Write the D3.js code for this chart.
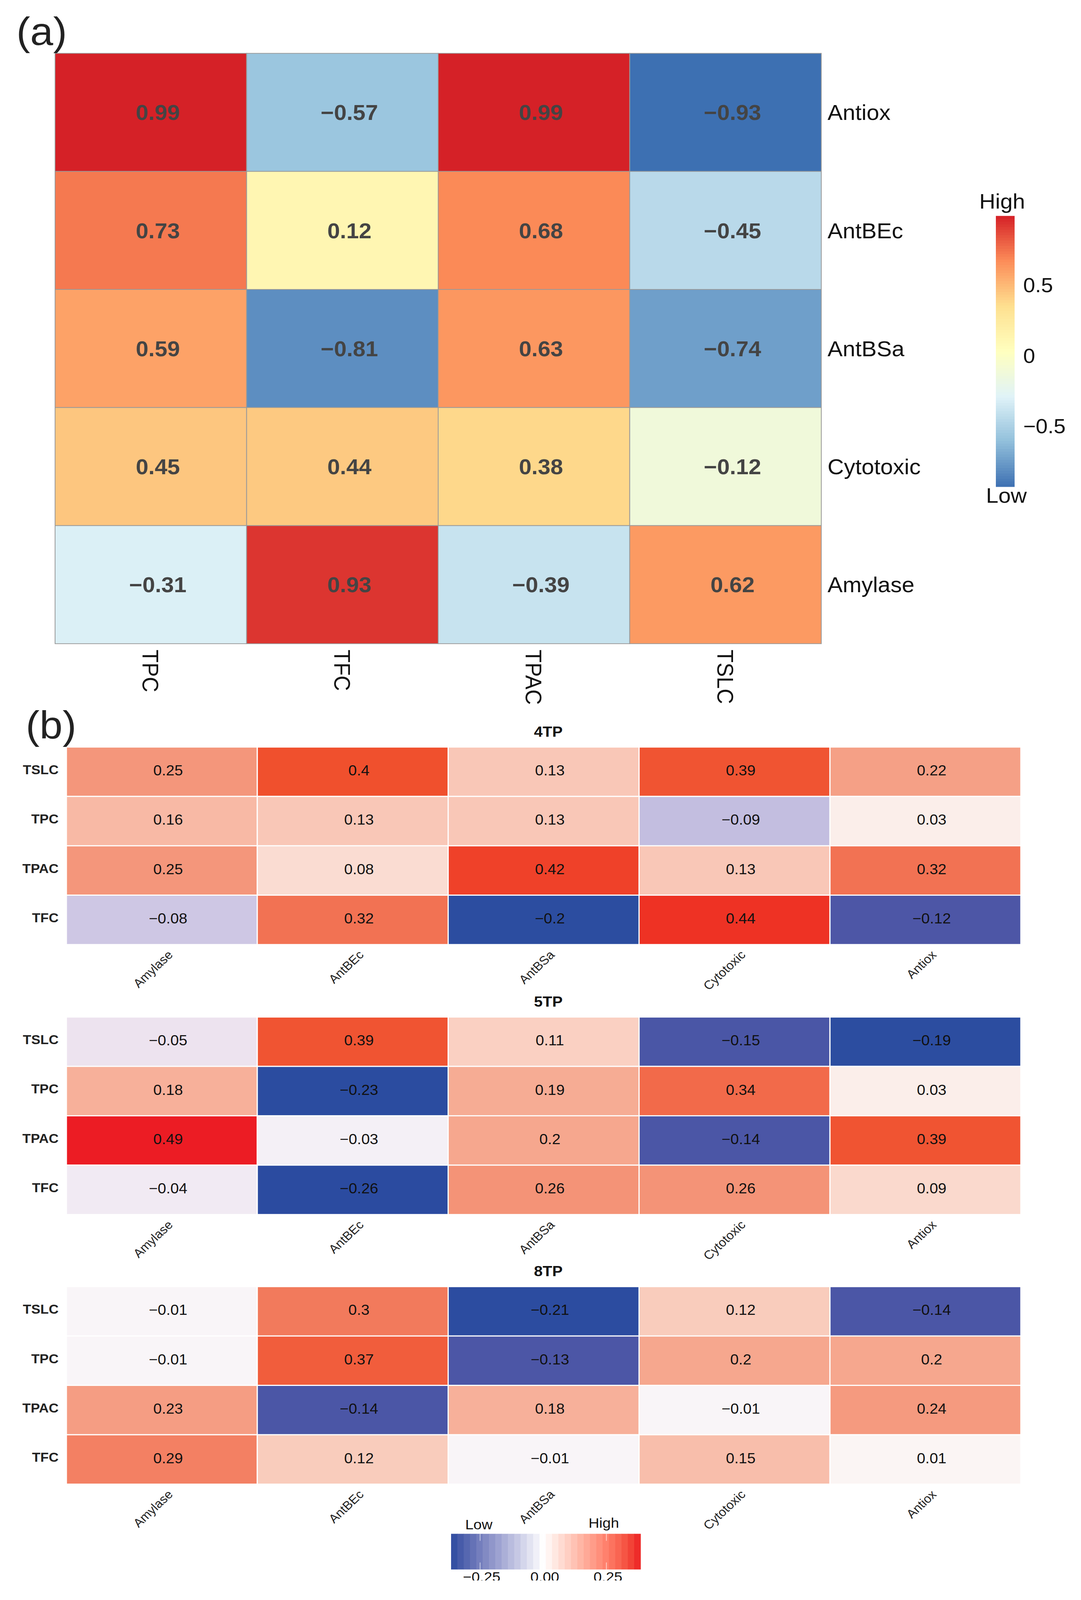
<!DOCTYPE html>
<html>
  <head>
    <meta charset="utf-8">
    <title>Correlation heatmaps</title>
    <script src="https://d3js.org/d3.v7.min.js"></script>
    <style>
      html, body { margin: 0; height: 100%; background: #fff; overflow: hidden; }
      svg { display: block; font-family: "Liberation Sans", Arial, Helvetica, sans-serif; }
    </style>
  </head>
  <body>
    <div id="chart"></div>
    <script>
      // Panel (a): correlation of activities with contents
      var rowsA = ["Antiox", "AntBEc", "AntBSa", "Cytotoxic", "Amylase"];
      var colsA = ["TPC", "TFC", "TPAC", "TSLC"];
      var valuesA = [
        [0.99, -0.57, 0.99, -0.93],
        [0.73, 0.12, 0.68, -0.45],
        [0.59, -0.81, 0.63, -0.74],
        [0.45, 0.44, 0.38, -0.12],
        [-0.31, 0.93, -0.39, 0.62]
      ];
      var ticksA = [0.5, 0, -0.5];

      // Panel (b): one small heatmap per time point
      var rowsB = ["TSLC", "TPC", "TPAC", "TFC"];
      var colsB = ["Amylase", "AntBEc", "AntBSa", "Cytotoxic", "Antiox"];
      var titlesB = ["4TP", "5TP", "8TP"];
      var values4TP = [
        [0.25, 0.4, 0.13, 0.39, 0.22],
        [0.16, 0.13, 0.13, -0.09, 0.03],
        [0.25, 0.08, 0.42, 0.13, 0.32],
        [-0.08, 0.32, -0.2, 0.44, -0.12]
      ];
      var values5TP = [
        [-0.05, 0.39, 0.11, -0.15, -0.19],
        [0.18, -0.23, 0.19, 0.34, 0.03],
        [0.49, -0.03, 0.2, -0.14, 0.39],
        [-0.04, -0.26, 0.26, 0.26, 0.09]
      ];
      var values8TP = [
        [-0.01, 0.3, -0.21, 0.12, -0.14],
        [-0.01, 0.37, -0.13, 0.2, 0.2],
        [0.23, -0.14, 0.18, -0.01, 0.24],
        [0.29, 0.12, -0.01, 0.15, 0.01]
      ];
      var ticksB = [-0.25, 0, 0.25];

      // drawing is laid out on the figure's own 2768 x 4350 grid and
      // stretched to whatever the window really is
      var W = 2768, H = 4350;
      var svg = d3.select("#chart").append("svg")
        .attr("viewBox", "0 0 " + W + " " + H)
        .attr("preserveAspectRatio", "none");

      function resize() {
        svg.attr("width", window.innerWidth).attr("height", window.innerHeight);
      }
      resize();
      window.addEventListener("resize", resize);

      svg.append("rect").attr("width", W).attr("height", H).attr("fill", "#fff");

      var minus = function (v) { return String(v).replace("-", "\u2212"); };

      // ---------- panel (a) ----------
      var flatA = d3.merge(valuesA);
      var minA = d3.min(flatA), maxA = d3.max(flatA);
      // pheatmap default: rev(RdYlBu, 7) stretched over the data range
      var paletteA = ["#3d70b2", "#91bfdb", "#e0f3f8", "#ffffbf", "#fee090", "#fc8d59", "#d52127"];
      var colorA = d3.scaleLinear()
        .domain(paletteA.map(function (c, i) { return minA + (maxA - minA) * i / (paletteA.length - 1); }))
        .range(paletteA);

      var xA = d3.scaleBand().domain(colsA).range([141, 2103]);
      var yA = d3.scaleBand().domain(rowsA).range([145, 1750]);

      var gA = svg.append("g");
      var cellsA = [];
      valuesA.forEach(function (row, i) {
        row.forEach(function (v, j) { cellsA.push({ r: rowsA[i], c: colsA[j], v: v }); });
      });

      gA.selectAll("rect.cell").data(cellsA).enter().append("rect")
        .attr("class", "cell")
        .attr("x", function (d) { return xA(d.c); })
        .attr("y", function (d) { return yA(d.r); })
        .attr("width", xA.bandwidth())
        .attr("height", yA.bandwidth())
        .attr("fill", function (d) { return colorA(d.v); })
        .attr("stroke", "#999")
        .attr("stroke-width", 2);

      gA.selectAll("text.num").data(cellsA).enter().append("text")
        .attr("class", "num")
        .attr("x", function (d) { return xA(d.c) + xA.bandwidth() / 2 + 18; })
        .attr("y", function (d) { return yA(d.r) + yA.bandwidth() / 2; })
        .attr("dy", "0.36em")
        .attr("text-anchor", "middle")
        .attr("font-size", 58)
        .attr("font-weight", "bold")
        .attr("fill", "#444")
        .text(function (d) { return minus(d.v); });

      gA.selectAll("text.rowlab").data(rowsA).enter().append("text")
        .attr("class", "rowlab")
        .attr("x", xA.range()[1] + 16)
        .attr("y", function (d) { return yA(d) + yA.bandwidth() / 2; })
        .attr("dy", "0.36em")
        .attr("font-size", 58)
        .attr("fill", "#111")
        .text(function (d) { return d; });

      gA.selectAll("text.collab").data(colsA).enter().append("text")
        .attr("class", "collab")
        .attr("transform", function (d) {
          return "translate(" + (xA(d) + xA.bandwidth() / 2) + "," + (yA.range()[1] + 16) + ") rotate(90)";
        })
        .attr("dy", "0.36em")
        .attr("font-size", 58)
        .attr("fill", "#111")
        .text(function (d) { return d; });

      // legend (a)
      var legYA = d3.scaleLinear().domain([minA, maxA]).range([1323, 587]);
      var stepsA = d3.range(100).map(function (i) { return minA + (maxA - minA) * (i + 0.5) / 100; });
      var stepH = (legYA(minA) - legYA(maxA)) / 100;
      gA.selectAll("rect.leg").data(stepsA).enter().append("rect")
        .attr("class", "leg")
        .attr("x", 2550)
        .attr("y", function (d) { return legYA(d) - stepH / 2; })
        .attr("width", 48)
        .attr("height", stepH + 0.8)
        .attr("fill", function (d) { return colorA(d); });

      gA.selectAll("text.legtick").data(ticksA).enter().append("text")
        .attr("class", "legtick")
        .attr("x", 2620)
        .attr("y", function (d) { return legYA(d); })
        .attr("dy", "0.36em")
        .attr("font-size", 55)
        .attr("fill", "#111")
        .text(function (d) { return minus(d); });

      gA.append("text").attr("x", 2566).attr("y", 567).attr("text-anchor", "middle")
        .attr("font-size", 57).attr("fill", "#111").text("High");
      gA.append("text").attr("x", 2577).attr("y", 1367).attr("text-anchor", "middle")
        .attr("font-size", 57).attr("fill", "#111").text("Low");

      svg.append("text").attr("x", 42).attr("y", 122).attr("font-size", 106)
        .attr("fill", "#222").text("(a)");

      // ---------- panel (b) ----------
      var cellStops = [-0.26, -0.19, -0.15, -0.12, -0.09, -0.05, -0.03, 0, 0.1, 0.2, 0.26, 0.3, 0.34, 0.4, 0.44, 0.49];
      var cellColors = ["#2b4ba0", "#2c4da0", "#4a56a6", "#4d56a6", "#c3bee0", "#ede3ef", "#f4f0f6", "#fbf8f9",
                        "#fad5c8", "#f6a78e", "#f49377", "#f27a5c", "#f26a4a", "#f0502d", "#ee3224", "#ec1c24"];
      var colorB = d3.scaleLinear().domain(cellStops).range(cellColors).clamp(true);

      var xB = d3.scaleBand().domain(colsB).range([170, 2614]);
      var panelH = 537;
      var panelTops = [2031, 2765, 3498];

      [values4TP, values5TP, values8TP].forEach(function (vals, k) {
        var top = panelTops[k];
        var yB = d3.scaleBand().domain(rowsB).range([top, top + panelH]);
        var g = svg.append("g");
        var cells = [];
        vals.forEach(function (row, i) {
          row.forEach(function (v, j) { cells.push({ r: rowsB[i], c: colsB[j], v: v }); });
        });

        g.selectAll("rect").data(cells).enter().append("rect")
          .attr("x", function (d) { return xB(d.c); })
          .attr("y", function (d) { return yB(d.r); })
          .attr("width", xB.bandwidth())
          .attr("height", yB.bandwidth())
          .attr("fill", function (d) { return colorB(d.v); })
          .attr("stroke", "#fff")
          .attr("stroke-width", 3);

        g.selectAll("text.num").data(cells).enter().append("text")
          .attr("class", "num")
          .attr("x", function (d) { return xB(d.c) + xB.bandwidth() / 2 + 16; })
          .attr("y", function (d) { return yB(d.r) + yB.bandwidth() / 2 - 4; })
          .attr("dy", "0.36em")
          .attr("text-anchor", "middle")
          .attr("font-size", 39)
          .attr("fill", "#111")
          .text(function (d) { return minus(d.v); });

        g.selectAll("text.rowlab").data(rowsB).enter().append("text")
          .attr("class", "rowlab")
          .attr("x", 150)
          .attr("y", function (d) { return yB(d) + yB.bandwidth() / 2 - 6; })
          .attr("dy", "0.36em")
          .attr("text-anchor", "end")
          .attr("font-size", 35)
          .attr("font-weight", "bold")
          .attr("fill", "#222")
          .text(function (d) { return d; });

        g.selectAll("text.collab").data(colsB).enter().append("text")
          .attr("class", "collab")
          .attr("transform", function (d) {
            return "translate(" + (xB(d) + xB.bandwidth() / 2 + 30) + "," + (top + panelH + 30) + ") rotate(-45)";
          })
          .attr("text-anchor", "end")
          .attr("font-size", 33)
          .attr("fill", "#222")
          .text(function (d) { return d; });

        g.append("text")
          .attr("x", (xB.range()[0] + xB.range()[1]) / 2 + 12)
          .attr("y", top - 28)
          .attr("text-anchor", "middle")
          .attr("font-size", 40)
          .attr("font-weight", "bold")
          .attr("fill", "#111")
          .text(titlesB[k]);
      });

      svg.append("text").attr("x", 66).attr("y", 2008).attr("font-size", 106)
        .attr("fill", "#222").text("(b)");

      // legend (b): horizontal colour bar, clipped at the bottom as in the figure
      var legXB = d3.scaleLinear().domain([-0.365, 0.385]).range([1155, 1640]);
      var colorLeg = d3.scaleLinear().domain([-0.365, 0, 0.385])
        .range(["#2b4b9f", "#ffffff", "#ec1c24"]).interpolate(d3.interpolateLab);
      var nBins = 30;
      var binW = (legXB.range()[1] - legXB.range()[0]) / nBins;
      var bins = d3.range(nBins).map(function (i) { return -0.365 + 0.75 * (i + 0.5) / nBins; });
      var gL = svg.append("g");
      gL.selectAll("rect").data(bins).enter().append("rect")
        .attr("x", function (d) { return legXB(d) - binW / 2; })
        .attr("y", 4170)
        .attr("width", binW + 0.8)
        .attr("height", 97)
        .attr("fill", function (d) { return colorLeg(d); });

      gL.selectAll("line.tk").data(d3.merge(ticksB.map(function (t) { return [[t, 4170], [t, 4248]]; })))
        .enter().append("line")
        .attr("class", "tk")
        .attr("x1", function (d) { return legXB(d[0]); })
        .attr("x2", function (d) { return legXB(d[0]); })
        .attr("y1", function (d) { return d[1]; })
        .attr("y2", function (d) { return d[1] + 19; })
        .attr("stroke", "#fff")
        .attr("stroke-opacity", 0.6)
        .attr("stroke-width", 2);

      svg.append("clipPath").attr("id", "legclip")
        .append("rect").attr("x", 0).attr("y", 0).attr("width", W).attr("height", 4297);

      gL.selectAll("text.tick").data(ticksB).enter().append("text")
        .attr("class", "tick")
        .attr("clip-path", "url(#legclip)")
        .attr("x", function (d) { return legXB(d) + 4; })
        .attr("y", 4300)
        .attr("text-anchor", "middle")
        .attr("font-size", 38)
        .attr("fill", "#111")
        .text(d3.format(".2f"));

      gL.append("text").attr("x", 1226).attr("y", 4158).attr("text-anchor", "middle")
        .attr("font-size", 38).attr("fill", "#111").text("Low");
      gL.append("text").attr("x", 1546).attr("y", 4154).attr("text-anchor", "middle")
        .attr("font-size", 38).attr("fill", "#111").text("High");
    </script>
  </body>
</html>
